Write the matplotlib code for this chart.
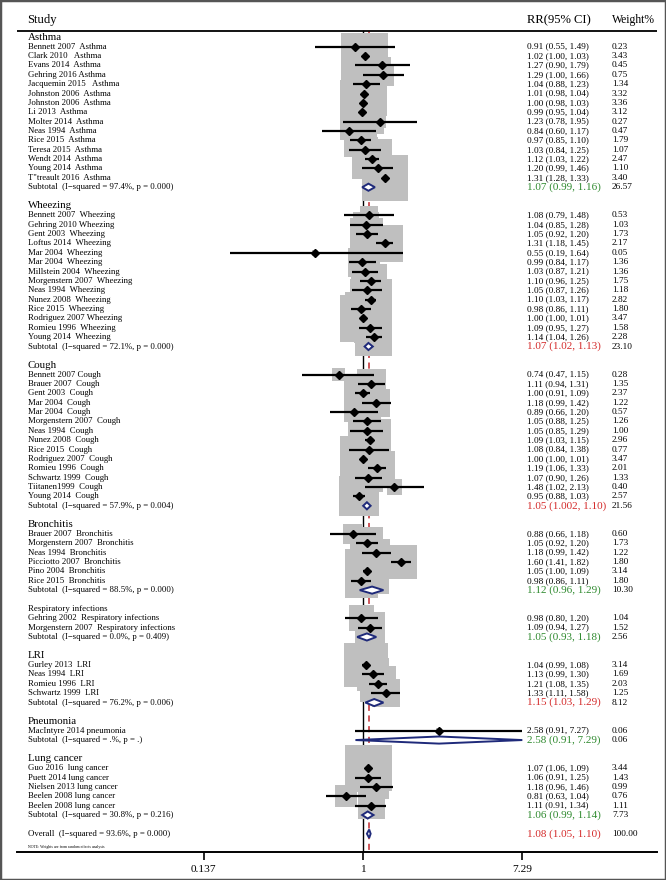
import numpy as np
import matplotlib
matplotlib.use("Agg")
import matplotlib.pyplot as plt
from matplotlib.patches import Rectangle, Polygon
from matplotlib import transforms

plt.rcParams['font.family'] = ['Liberation Serif', 'DejaVu Serif']

# ---- data ----
group_names = ["Asthma", "Wheezing", "Cough", "Bronchitis", "Respiratory infections",
               "LRI", "Pneumonia", "Lung cancer"]

asthma_study = ["Bennett 2007  Asthma", "Clark 2010   Asthma", "Evans 2014  Asthma",
                "Gehring 2016 Asthma", "Jacquemin 2015   Asthma", "Johnston 2006  Asthma",
                "Johnston 2006  Asthma", "Li 2013  Asthma", "Molter 2014  Asthma",
                "Neas 1994  Asthma", "Rice 2015  Asthma", "Teresa 2015  Asthma",
                "Wendt 2014  Asthma", "Young 2014  Asthma", "T\"treault 2016  Asthma"]
asthma_rr = [0.91, 1.02, 1.27, 1.29, 1.04, 1.01, 1.00, 0.99, 1.23, 0.84, 0.97, 1.03, 1.12, 1.20, 1.31]
asthma_lo = [0.55, 1.00, 0.90, 1.00, 0.88, 0.98, 0.98, 0.95, 0.78, 0.60, 0.85, 0.84, 1.03, 0.99, 1.28]
asthma_hi = [1.49, 1.03, 1.79, 1.66, 1.23, 1.04, 1.03, 1.04, 1.95, 1.17, 1.10, 1.25, 1.22, 1.46, 1.33]
asthma_wt = [0.23, 3.43, 0.45, 0.75, 1.34, 3.32, 3.36, 3.12, 0.27, 0.47, 1.79, 1.07, 2.47, 1.10, 3.40]

wheeze_study = ["Bennett 2007  Wheezing", "Gehring 2010 Wheezing", "Gent 2003  Wheezing",
                "Loftus 2014  Wheezing", "Mar 2004  Wheezing", "Mar 2004  Wheezing",
                "Millstein 2004  Wheezing", "Morgenstern 2007  Wheezing", "Neas 1994  Wheezing",
                "Nunez 2008  Wheezing", "Rice 2015  Wheezing", "Rodriguez 2007 Wheezing",
                "Romieu 1996  Wheezing", "Young 2014  Wheezing"]
wheeze_rr = [1.08, 1.04, 1.05, 1.31, 0.55, 0.99, 1.03, 1.10, 1.05, 1.10, 0.98, 1.00, 1.09, 1.14]
wheeze_lo = [0.79, 0.85, 0.92, 1.18, 0.19, 0.84, 0.87, 0.96, 0.87, 1.03, 0.86, 1.00, 0.95, 1.04]
wheeze_hi = [1.48, 1.28, 1.20, 1.45, 1.64, 1.17, 1.21, 1.25, 1.26, 1.17, 1.11, 1.01, 1.27, 1.26]
wheeze_wt = [0.53, 1.03, 1.73, 2.17, 0.05, 1.36, 1.36, 1.75, 1.18, 2.82, 1.80, 3.47, 1.58, 2.28]

cough_study = ["Bennett 2007 Cough", "Brauer 2007  Cough", "Gent 2003  Cough", "Mar 2004  Cough",
               "Mar 2004  Cough", "Morgenstern 2007  Cough", "Neas 1994  Cough", "Nunez 2008  Cough",
               "Rice 2015  Cough", "Rodriguez 2007  Cough", "Romieu 1996  Cough",
               "Schwartz 1999  Cough", "Tiitanen1999  Cough", "Young 2014  Cough"]
cough_rr = [0.74, 1.11, 1.00, 1.18, 0.89, 1.05, 1.05, 1.09, 1.08, 1.00, 1.19, 1.07, 1.48, 0.95]
cough_lo = [0.47, 0.94, 0.91, 0.99, 0.66, 0.88, 0.85, 1.03, 0.84, 1.00, 1.06, 0.90, 1.02, 0.88]
cough_hi = [1.15, 1.31, 1.09, 1.42, 1.20, 1.25, 1.29, 1.15, 1.38, 1.01, 1.33, 1.26, 2.13, 1.03]
cough_wt = [0.28, 1.35, 2.37, 1.22, 0.57, 1.26, 1.00, 2.96, 0.77, 3.47, 2.01, 1.33, 0.40, 2.57]

bronch_study = ["Brauer 2007  Bronchitis", "Morgenstern 2007  Bronchitis", "Neas 1994  Bronchitis",
                "Picciotto 2007  Bronchitis", "Pino 2004  Bronchitis", "Rice 2015  Bronchitis"]
bronch_rr = [0.88, 1.05, 1.18, 1.60, 1.05, 0.98]
bronch_lo = [0.66, 0.92, 0.99, 1.41, 1.00, 0.86]
bronch_hi = [1.18, 1.20, 1.42, 1.82, 1.09, 1.11]
bronch_wt = [0.60, 1.73, 1.22, 1.80, 3.14, 1.80]

resp_study = ["Gehring 2002  Respiratory infections", "Morgenstern 2007  Respiratory infections"]
resp_rr = [0.98, 1.09]
resp_lo = [0.80, 0.94]
resp_hi = [1.20, 1.27]
resp_wt = [1.04, 1.52]

lri_study = ["Gurley 2013  LRI", "Neas 1994  LRI", "Romieu 1996  LRI", "Schwartz 1999  LRI"]
lri_rr = [1.04, 1.13, 1.21, 1.33]
lri_lo = [0.99, 0.99, 1.08, 1.11]
lri_hi = [1.08, 1.30, 1.35, 1.58]
lri_wt = [3.14, 1.69, 2.03, 1.25]

pneu_study = ["MacIntyre 2014 pneumonia"]
pneu_rr = [2.58]
pneu_lo = [0.91]
pneu_hi = [7.27]
pneu_wt = [0.06]

lung_study = ["Guo 2016  lung cancer", "Puett 2014 lung cancer", "Nielsen 2013 lung cancer",
              "Beelen 2008 lung cancer", "Beelen 2008 lung cancer"]
lung_rr = [1.07, 1.06, 1.18, 0.81, 1.11]
lung_lo = [1.06, 0.91, 0.96, 0.63, 0.91]
lung_hi = [1.09, 1.25, 1.46, 1.04, 1.34]
lung_wt = [3.44, 1.43, 0.99, 0.76, 1.11]

sub_rr = [1.07, 1.07, 1.05, 1.12, 1.05, 1.15, 2.58, 1.06]
sub_lo = [0.99, 1.02, 1.002, 0.96, 0.93, 1.03, 0.91, 0.99]
sub_hi = [1.16, 1.13, 1.10, 1.29, 1.18, 1.29, 7.29, 1.14]
sub_wt = [26.57, 23.10, 21.56, 10.30, 2.56, 8.12, 0.06, 7.73]
sub_i2 = ["97.4", "72.1", "57.9", "88.5", "0.0", "76.2", ".", "30.8"]
sub_p = ["0.000", "0.000", "0.004", "0.000", "0.409", "0.006", ".", "0.216"]

overall_rr, overall_lo, overall_hi = 1.08, 1.05, 1.10
overall_i2, overall_p = "93.6", "0.000"

xtick_vals = [0.137, 1, 7.29]

all_study = [asthma_study, wheeze_study, cough_study, bronch_study, resp_study, lri_study, pneu_study, lung_study]
all_rr = [asthma_rr, wheeze_rr, cough_rr, bronch_rr, resp_rr, lri_rr, pneu_rr, lung_rr]
all_lo = [asthma_lo, wheeze_lo, cough_lo, bronch_lo, resp_lo, lri_lo, pneu_lo, lung_lo]
all_hi = [asthma_hi, wheeze_hi, cough_hi, bronch_hi, resp_hi, lri_hi, pneu_hi, lung_hi]
all_wt = [asthma_wt, wheeze_wt, cough_wt, bronch_wt, resp_wt, lri_wt, pneu_wt, lung_wt]


def fmt(v):
    return f"{v:.2f}" if round(v, 2) == v else f"{v:.3f}"


# ---- layout ----
W, H = 666, 880
row_px, row0_px = 9.37, 37.3       # pixel height of a row, pixel y of row 0
px_ln, one_px = 80.2, 363.0        # pixels per ln unit, pixel x of RR=1
ax_l, ax_r, ax_b = 17, 657, 852

fig = plt.figure(figsize=(W / 100, H / 100), dpi=100)
ax = fig.add_axes([ax_l / W, (H - ax_b) / H, (ax_r - ax_l) / W, ax_b / H])
ax.set_xscale('log')
ax.set_xlim(np.exp((ax_l - one_px) / px_ln), np.exp((ax_r - one_px) / px_ln))
ax.set_ylim((ax_b - row0_px) / row_px, -row0_px / row_px)

trans = transforms.blended_transform_factory(fig.transFigure, ax.transData)
x_lab, x_ci, x_wt = 27.6 / W, 527 / W, 612 / W

GREY = '#bfbfbf'
NAVY = '#1f2a7a'
GREEN = '#2f8a2f'
RED = '#d42a2a'


def box_half(w):
    h = 12.5 * np.sqrt(w)
    return h / px_ln, h / row_px


def diamond(rr, lo, hi, r, hd=0.38):
    ax.add_patch(Polygon([(lo, r), (rr, r - hd), (hi, r), (rr, r + hd)], closed=True,
                         facecolor='white', edgecolor=NAVY, lw=1.4, zorder=5))


r = 0
for g in range(len(group_names)):
    hsize = 6.4 if group_names[g] == "Respiratory infections" else 7.8
    ax.text(x_lab, r, group_names[g], transform=trans, fontsize=hsize, va='center')
    r += 1
    for s, rr, lo, hi, w in zip(all_study[g], all_rr[g], all_lo[g], all_hi[g], all_wt[g]):
        hx, hy = box_half(w)
        ax.add_patch(Rectangle((rr * np.exp(-hx), r - hy), rr * (np.exp(hx) - np.exp(-hx)), 2 * hy,
                               facecolor=GREY, edgecolor='none', zorder=2))
        ax.plot([lo, hi], [r, r], color='black', lw=1.6, zorder=3, solid_capstyle='butt')
        ax.plot(rr, r, marker='D', color='black', ms=4.0, zorder=4)
        ax.text(x_lab, r, s, transform=trans, fontsize=6.3, va='center')
        ax.text(x_ci, r, f"{rr:.2f} ({lo:.2f}, {hi:.2f})", transform=trans, fontsize=6.7, va='center')
        ax.text(x_wt, r, f"{w:.2f}", transform=trans, fontsize=6.7, va='center')
        r += 1
    diamond(sub_rr[g], sub_lo[g], sub_hi[g], r)
    ax.text(x_lab, r, f"Subtotal  (I\u2212squared = {sub_i2[g]}%, p = {sub_p[g]})",
            transform=trans, fontsize=6.3, va='center')
    col = RED if sub_lo[g] > 1 else GREEN
    ax.text(x_ci, r, f"{fmt(sub_rr[g])} ({fmt(sub_lo[g])}, {fmt(sub_hi[g])})", transform=trans,
            fontsize=8.0, va='center', color=col)
    ax.text(x_wt, r, f"{sub_wt[g]:.2f}", transform=trans, fontsize=6.7, va='center')
    r += 2

# overall
diamond(overall_rr, overall_lo, overall_hi, r, hd=0.45)
ax.text(x_lab, r, f"Overall  (I\u2212squared = {overall_i2}%, p = {overall_p})",
        transform=trans, fontsize=6.3, va='center')
ax.text(x_ci, r, f"{overall_rr:.2f} ({overall_lo:.2f}, {overall_hi:.2f})", transform=trans,
        fontsize=8.0, va='center', color=RED)
ax.text(x_wt, r, "100.00", transform=trans, fontsize=6.7, va='center')
ax.text(x_lab, r + 1.45, "NOTE: Weights are from random effects analysis", transform=trans,
        fontsize=2.8, va='center')

# reference lines and header
top_r = (31 - row0_px) / row_px
bot_r = (ax_b - row0_px) / row_px
ax.plot([1, 1], [top_r, bot_r], color='black', lw=1.0, zorder=1)
ax.plot([overall_rr, overall_rr], [top_r, bot_r], color='#c0282d', lw=1.1, ls=(0, (4, 3)), zorder=1)
ax.axhline(top_r, color='black', lw=1.3, zorder=1)

hdr_r = (20 - row0_px) / row_px
ax.text(x_lab, hdr_r, "Study", transform=trans, fontsize=9.1, va='center')
ax.text(x_ci, hdr_r, "RR(95% CI)", transform=trans, fontsize=9.1, va='center')
ax.text(x_wt, hdr_r, "Weight%", transform=trans, fontsize=8.4, va='center')

# axis
for sp in ['top', 'left', 'right']:
    ax.spines[sp].set_visible(False)
ax.spines['bottom'].set_linewidth(1.4)
ax.set_yticks([])
ax.set_xticks(xtick_vals)
ax.set_xticklabels(["0.137", "1", "7.29"])
ax.xaxis.set_minor_locator(matplotlib.ticker.NullLocator())
ax.tick_params(axis='x', length=6, width=1.2, direction='out', pad=3, labelsize=8.2)
ax.patch.set_alpha(0)

fig.patches.append(Rectangle((0, 0), 1, 1, transform=fig.transFigure, fill=False,
                             edgecolor='#555555', lw=2.5))

fig.savefig("out.png", dpi=100)
